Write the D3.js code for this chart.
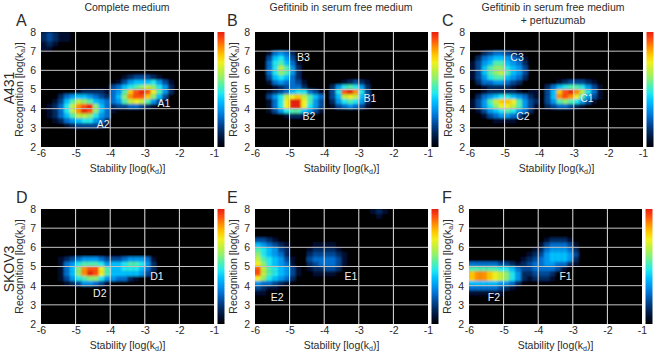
<!DOCTYPE html>
<html lang="en">
<head>
<meta charset="utf-8">
<title>Stability and recognition maps</title>
<script src="https://cdn.jsdelivr.net/npm/d3@7"></script>
<style>
body { margin: 0; background: #fff; }
text { font-family: "Liberation Sans", Arial, sans-serif; fill: #2b2b2b; }
</style>
</head>
<body>
<script>
// cell levels, 0-f hex. one string per row, top row first (y=8 down to y=2)
// groups of six cells = one log unit on x, missing cells at the end of a row are 0
var gridA = [
"232110","232110","121000","110000","","","","","",
"000000 000000 001233 321000",
"000000 000000 013566 675310",
"000000 000000 346789 a97520",
"000000 122221 458cef eb8520",
"000245 665432 469dee c96300",
"001368 a98654 458aba 853100",
"01247a def964 233443 210000",
"01247a dfe964 100000",
"012468 aa9754",
"001245 677542",
"000012 333321",
"","","",""]
var gridB = [
"","","","",
"001454 200000",
"003675 300000",
"004786 410000",
"0047a8 520000",
"004798 520000",
"003676 420000",
"001454 431000 000123 210000",
"000123 442000 025787 520000",
"001234 677431 037efd 730000",
"00357a bca864 036aba 630000",
"00147b ffb853 025787 520000",
"00147b ffb753 013454 310000",
"001357 886531",
"000001 221000",
"","","","","",""]
var gridC = [
"","","","",
"002344 321000",
"024566 543100",
"135688 654200",
"136899 765300",
"13689a 865300",
"135788 654200",
"024455 432000 000123 332100",
"001222 210000 024678 875310",
"001222 221011 036cef da7410",
"024567 765421 036ded b85310",
"1358ac cb8532 035898 753100",
"13579b ba8531 023443 210000",
"013567 875420",
"001345 543100",
"000011 110000",
"","","","",""]
var gridD = [
"","","","","","","","","","",
"000123 455543 334555 410000",
"000145 788875 667887 520000",
"000146 9deeb8 667776 420000",
"000146 9dfeb8 666665 310000",
"000135 789975 544210",
"000012 355431",
"","","","","","","",""]
var gridE = [
"000000 000000 000000 001210",
"000000 000000 000000 000100",
"","","","",
"332100",
"654321 000011 110000",
"876532 000122 221000",
"976542 000233 332100",
"a87653 100344 443100",
"b97654 100234 443100",
"ea8765 310122 332000",
"ea8765 310011 110000",
"b97654 200000",
"544321",
"321100",
"110000",
"","","","","",""]
var gridF = [
"","","","","","",
"000000 000000 012221",
"000000 000000 134443 100000",
"000000 000001 245554 200000",
"000000 000012 356665 300000",
"000000 000123 456665 200000",
"444443 321234 455442 100000",
"888887 764334 444310",
"cddcba 975223 332000",
"cddcba 975212 221000",
"666665 542000",
"444443 210000",
"111111",
"","","","","",""]

var xTicks = [-6, -5, -4, -3, -2, -1]
var yTicks = [2, 3, 4, 5, 6, 7, 8]
var levelColors = ["#000004", "#001030", "#002a60", "#004a98", "#0070d0", "#0098f0", "#00c0ff", "#20e8f0",
	"#50f0b0", "#90f070", "#c0f040", "#f0f020", "#ffc800", "#ff9000", "#ff5010", "#e82010"]

var labelNames = {A: ["A1", "A2"], B: ["B1", "B2", "B3"], C: ["C1", "C2", "C3"], D: ["D1", "D2"], E: ["E1", "E2"], F: ["F1", "F2"]}
// where the labels sit, in axis units
var labelX = {A: [-2.45, -4.2], B: [-2.68, -4.44, -4.6], C: [-2.62, -4.47, -4.64], D: [-2.65, -4.3], E: [-3.23, -5.36], F: [-3.21, -5.28]}
var labelY = {A: [4.3, 3.2], B: [4.55, 3.63, 6.68], C: [4.55, 3.63, 6.68], D: [4.5, 3.62], E: [4.5, 3.41], F: [4.5, 3.41]}

var W = 656, H = 352
var plotW = 173, plotH = 115
var panels = [
	{id: "A", grid: gridA, left: 41, top: 32, titleX: 16},
	{id: "B", grid: gridB, left: 255, top: 32, titleX: 227},
	{id: "C", grid: gridC, left: 470, top: 32, titleX: 442},
	{id: "D", grid: gridD, left: 41, top: 209, titleX: 16},
	{id: "E", grid: gridE, left: 255, top: 209, titleX: 227},
	{id: "F", grid: gridF, left: 469, top: 209, titleX: 442}
]

var svg = d3.select("body").append("svg").attr("width", W).attr("height", H).style("display", "block")

var defs = svg.append("defs")
defs.append("filter").attr("id", "soft").attr("x", -0.05).attr("y", -0.05).attr("width", 1.1).attr("height", 1.1)
	.append("feGaussianBlur").attr("stdDeviation", 0.8)
defs.append("clipPath").attr("id", "plotclip").append("rect").attr("width", plotW).attr("height", plotH)

var color = d3.scaleLinear().domain(d3.range(levelColors.length)).range(levelColors)

var grad = defs.append("linearGradient").attr("id", "bar").attr("x1", 0).attr("x2", 0).attr("y1", 1).attr("y2", 0)
grad.selectAll("stop").data(levelColors).enter().append("stop")
	.attr("offset", (d, i) => i / (levelColors.length - 1))
	.attr("stop-color", d => d)

panels.forEach(function(p) {
	var g = svg.append("g").attr("transform", "translate(" + p.left + "," + p.top + ")")
	var x = d3.scaleLinear().domain([-6, -1]).range([0, plotW])
	var y = d3.scaleLinear().domain([2, 8]).range([plotH, 0])

	// turn the row strings into cells
	var cells = []
	p.grid.forEach(function(row, j) {
		row.replace(/ /g, "").padEnd(30, "0").split("").forEach(function(c, i) {
			cells.push({i: i, j: j, v: parseInt(c, 16)})
		})
	})

	g.append("rect").attr("width", plotW).attr("height", plotH).attr("fill", color(0))

	// first column runs a bit past the edge so the blur does not fade it out, clip cuts it back
	g.append("g").attr("clip-path", "url(#plotclip)").append("g").attr("filter", "url(#soft)")
		.selectAll("rect").data(cells).enter().append("rect")
		.attr("x", d => x(-6 + d.i / 6) - (d.i == 0 ? 6 : 0))
		.attr("y", d => y(8 - d.j / 4))
		.attr("width", d => x(-6 + 1 / 6) - x(-6) + 0.3 + (d.i == 0 ? 6 : 0))
		.attr("height", y(7.75) - y(8) + 0.3)
		.attr("fill", d => color(d.v))

	// grid
	g.selectAll(".vg").data(xTicks.slice(1, -1)).enter().append("line")
		.attr("x1", d => x(d)).attr("x2", d => x(d)).attr("y1", 0).attr("y2", plotH)
		.attr("stroke", "#e4e4e4").attr("stroke-width", 1)
	g.selectAll(".hg").data(yTicks.slice(1, -1)).enter().append("line")
		.attr("y1", d => y(d)).attr("y2", d => y(d)).attr("x1", 0).attr("x2", plotW)
		.attr("stroke", "#c4c4c4").attr("stroke-width", 1)

	var xAxis = g.append("g").attr("transform", "translate(0," + plotH + ")")
		.call(d3.axisBottom(x).tickValues(xTicks).tickSize(0).tickPadding(3).tickFormat(d => String(d)))
	var yAxis = g.append("g").call(d3.axisLeft(y).tickValues(yTicks).tickSize(0).tickPadding(5).tickFormat(d => String(d)))
	xAxis.select(".domain").remove()
	yAxis.select(".domain").remove()
	g.selectAll(".tick text").style("font-size", "10.5px")
	xAxis.attr("font-family", null).attr("font-size", null)
	yAxis.attr("font-family", null).attr("font-size", null)

	// colour bar
	g.append("rect").attr("x", plotW + 3.5).attr("y", 0).attr("width", 7).attr("height", plotH).attr("fill", "url(#bar)")

	// axis titles with subscripts
	var xt = g.append("text").attr("x", plotW / 2).attr("y", plotH + 25).attr("text-anchor", "middle").style("font-size", "10.5px")
	xt.append("tspan").text("Stability [log(k")
	xt.append("tspan").text("d").attr("dy", 2).style("font-size", "7px")
	xt.append("tspan").text(")]").attr("dy", -2)

	var yt = g.append("text").attr("transform", "translate(-18," + (plotH / 2) + ") rotate(-90)").attr("text-anchor", "middle").style("font-size", "10.5px")
	yt.append("tspan").text("Recognition [log(k")
	yt.append("tspan").text("a").attr("dy", 2).style("font-size", "7px")
	yt.append("tspan").text(")]").attr("dy", -2)

	// peak labels
	g.selectAll(".peak").data(labelNames[p.id]).enter().append("text")
		.attr("x", (d, i) => x(labelX[p.id][i]))
		.attr("y", (d, i) => y(labelY[p.id][i]))
		.attr("text-anchor", "middle").attr("dy", "0.36em")
		.style("font-size", "10.5px").style("fill", "#f0f0f0")
		.text(d => d)

	svg.append("text").attr("x", p.titleX).attr("y", p.top - 6).style("font-size", "16px").text(p.id)
})

// column titles
var titles = [
	{t: "Complete medium", x: 127, y: 11},
	{t: "Gefitinib in serum free medium", x: 341, y: 11},
	{t: "Gefitinib in serum free medium", x: 553, y: 11},
	{t: "+ pertuzumab", x: 553, y: 24}
]
svg.selectAll(".ctitle").data(titles).enter().append("text")
	.attr("x", d => d.x).attr("y", d => d.y).attr("text-anchor", "middle")
	.style("font-size", "10.5px").text(d => d.t)

// row titles
svg.append("text").attr("transform", "translate(14,88) rotate(-90)").attr("text-anchor", "middle").style("font-size", "14px").text("A431")
svg.append("text").attr("transform", "translate(14,269) rotate(-90)").attr("text-anchor", "middle").style("font-size", "14px").text("SKOV3")
</script>
</body>
</html>
